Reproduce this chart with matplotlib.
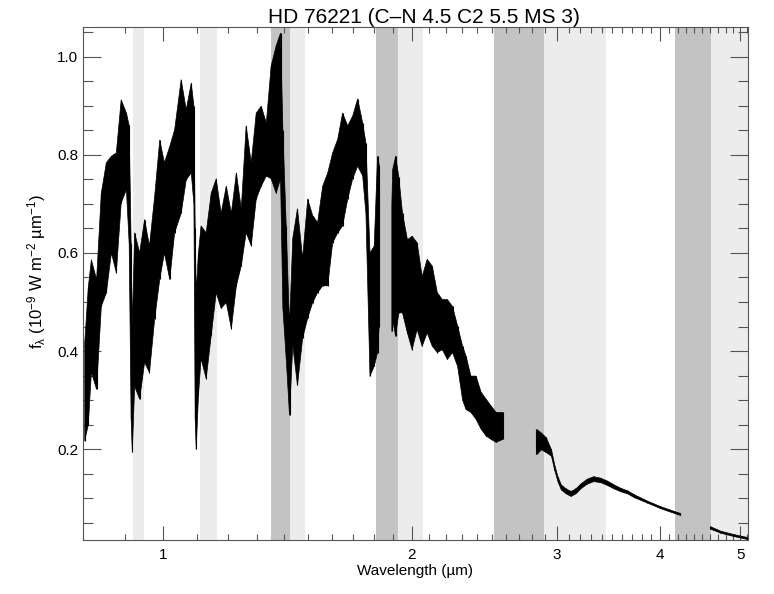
import numpy as np
import matplotlib
matplotlib.use('Agg')
import matplotlib.pyplot as plt
from matplotlib.ticker import FixedLocator, FixedFormatter, NullFormatter, MultipleLocator

plt.rcParams['font.family'] = ['Liberation Sans', 'DejaVu Sans']
plt.rcParams['mathtext.fontset'] = 'custom'
plt.rcParams['mathtext.rm'] = 'Liberation Sans'
plt.rcParams['mathtext.it'] = 'Liberation Sans'
plt.rcParams['mathtext.default'] = 'regular'

# noisy near-IR part (wavelength in um, lower / upper edge of the noise band)
nir_wl = [0.804, 0.812, 0.819, 0.831, 0.842, 0.854, 0.866, 0.878, 0.890, 0.903,
          0.910, 0.915, 0.918, 0.924, 0.937, 0.950, 0.963, 0.977, 0.991, 1.004,
          1.019, 1.033, 1.052, 1.067, 1.082, 1.090, 1.094, 1.097, 1.104, 1.112,
          1.128, 1.144, 1.160, 1.176, 1.193, 1.210, 1.227, 1.244, 1.261, 1.279,
          1.297, 1.315, 1.334, 1.352, 1.371, 1.388, 1.397, 1.410, 1.423, 1.436,
          1.455, 1.476, 1.497, 1.518, 1.539, 1.561, 1.583, 1.605, 1.628, 1.650,
          1.674, 1.697, 1.721, 1.745, 1.761, 1.781, 1.802, 1.819, 1.827, np.nan,
          1.893, 1.897, 1.913, 1.930, 1.950, 1.977, 2.003, 2.031, 2.060, 2.089,
          2.119, 2.149, 2.179, 2.210, 2.242, 2.274, 2.306, 2.328, 2.360, 2.394,
          2.428, 2.462, 2.497, 2.532, 2.580]
nir_lo = [0.217, 0.250, 0.357, 0.322, 0.491, 0.519, 0.600, 0.560, 0.702, 0.729,
          0.620, 0.261, 0.194, 0.328, 0.302, 0.377, 0.356, 0.465, 0.546, 0.600,
          0.546, 0.641, 0.681, 0.749, 0.763, 0.700, 0.261, 0.200, 0.310, 0.385,
          0.344, 0.432, 0.519, 0.487, 0.499, 0.446, 0.533, 0.574, 0.641, 0.615,
          0.710, 0.736, 0.757, 0.751, 0.722, 0.751, 0.487, 0.385, 0.269, 0.412,
          0.330, 0.426, 0.467, 0.499, 0.519, 0.533, 0.533, 0.621, 0.641, 0.655,
          0.710, 0.751, 0.777, 0.757, 0.681, 0.349, 0.369, 0.397, 0.450, np.nan,
          0.440, 0.465, 0.430, 0.478, 0.478, 0.437, 0.403, 0.444, 0.410, 0.437,
          0.410, 0.397, 0.403, 0.383, 0.397, 0.369, 0.300, 0.281, 0.275, 0.261,
          0.241, 0.227, 0.220, 0.214, 0.220]
nir_hi = [0.418, 0.530, 0.586, 0.546, 0.722, 0.784, 0.797, 0.804, 0.912, 0.885,
          0.860, 0.620, 0.450, 0.641, 0.600, 0.668, 0.614, 0.715, 0.830, 0.784,
          0.817, 0.851, 0.953, 0.892, 0.946, 0.900, 0.650, 0.519, 0.600, 0.655,
          0.641, 0.722, 0.751, 0.681, 0.736, 0.681, 0.763, 0.690, 0.859, 0.784,
          0.885, 0.899, 0.865, 0.981, 1.022, 1.048, 0.850, 0.655, 0.452, 0.630,
          0.690, 0.589, 0.710, 0.676, 0.662, 0.736, 0.763, 0.804, 0.832, 0.885,
          0.859, 0.879, 0.914, 0.865, 0.824, 0.600, 0.614, 0.797, 0.780, np.nan,
          0.700, 0.769, 0.797, 0.755, 0.681, 0.627, 0.634, 0.621, 0.552, 0.587,
          0.573, 0.519, 0.505, 0.505, 0.491, 0.451, 0.410, 0.390, 0.349, 0.349,
          0.316, 0.302, 0.288, 0.275, 0.275]

# L band part
lb_wl = [2.833, 2.869, 2.909, 2.950, 2.978, 3.005, 3.033, 3.074, 3.116, 3.158,
         3.201, 3.260, 3.320, 3.385, 3.450, 3.516, 3.585, 3.650, 3.720, 3.860,
         4.000, 4.160, 4.230]
lb_lo = [0.190, 0.200, 0.194, 0.187, 0.157, 0.134, 0.118, 0.110, 0.105, 0.110,
         0.120, 0.130, 0.135, 0.133, 0.127, 0.120, 0.114, 0.110, 0.102, 0.091,
         0.080, 0.070, 0.066]
lb_hi = [0.241, 0.234, 0.224, 0.200, 0.168, 0.144, 0.128, 0.120, 0.115, 0.120,
         0.130, 0.140, 0.145, 0.142, 0.136, 0.128, 0.121, 0.116, 0.108, 0.095,
         0.084, 0.074, 0.070]

# M band part
mb_wl = [4.60, 4.73, 4.91, 5.10]
mb_lo = [0.038, 0.030, 0.023, 0.017]
mb_hi = [0.043, 0.034, 0.027, 0.021]

# telluric bands: start, end, dark or light shade
band_lo = [0.920, 1.110, 1.353, 1.424, 1.810, 1.928, 2.52, 2.89, 4.17, 4.61]
band_hi = [0.949, 1.161, 1.424, 1.485, 1.928, 2.062, 2.89, 3.44, 4.61, 5.30]
band_dark = [False, False, True, False, True, False, True, False, True, False]

fig = plt.figure(figsize=(7.74, 5.94), dpi=100)
ax = fig.add_axes([0.1072, 0.0909, 0.8592, 0.8641])

for a, b, dk in zip(band_lo, band_hi, band_dark):
    ax.axvspan(a, b, color='#c3c3c3' if dk else '#ececec', lw=0, zorder=0)

for wl, lo, hi in [(nir_wl, nir_lo, nir_hi), (lb_wl, lb_lo, lb_hi), (mb_wl, mb_lo, mb_hi)]:
    wl = np.array(wl, dtype=float)
    lo = np.array(lo, dtype=float)
    hi = np.array(hi, dtype=float)
    ax.fill_between(wl, lo, hi, color='black', lw=0.5, zorder=2)
    # spikes at each sample
    ax.vlines(wl, lo, hi, color='black', lw=0.8, zorder=3)

ax.set_xscale('log')
ax.set_xlim(0.80, 5.11)
ax.set_ylim(0.015, 1.061)

ax.xaxis.set_major_locator(FixedLocator([1, 2, 3, 4, 5]))
ax.xaxis.set_minor_locator(FixedLocator(np.arange(0.8, 5.15, 0.1)))
ax.xaxis.set_major_formatter(FixedFormatter(['1', '2', '3', '4', '5']))
ax.xaxis.set_minor_formatter(NullFormatter())
ax.yaxis.set_major_locator(FixedLocator([0.2, 0.4, 0.6, 0.8, 1.0]))
ax.yaxis.set_minor_locator(MultipleLocator(0.05))
ax.yaxis.set_major_formatter(matplotlib.ticker.FormatStrFormatter('%.1f'))

ax.tick_params(which='both', direction='in', top=True, right=True,
               labelsize=11, color='#555555', width=0.8)
ax.tick_params(axis='y', which='major', length=13)
ax.tick_params(axis='y', which='minor', length=7)
ax.tick_params(axis='x', which='major', length=10, pad=6)
ax.tick_params(axis='x', which='minor', length=4)
for s in ax.spines.values():
    s.set_color('#555555')
    s.set_linewidth(0.8)

ax.set_title('HD 76221 (C\u2013N 4.5 C2 5.5 MS 3)', fontsize=15, pad=3, x=0.512)
ax.set_xlabel('Wavelength (\u00b5m)', fontsize=11, labelpad=1)
ax.set_ylabel('f$_\\lambda$ (10$^{-9}$ W m$^{-2}$ \u00b5m$^{-1}$)', fontsize=12)
ax.yaxis.set_label_coords(-0.053, 0.522)

fig.savefig('out.png', dpi=100)
